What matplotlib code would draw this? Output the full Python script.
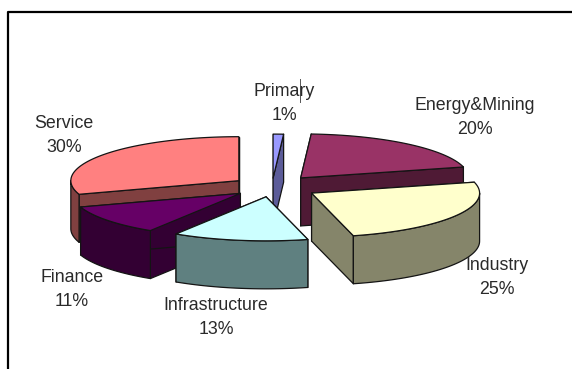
import numpy as np
import matplotlib
matplotlib.use('Agg')
import matplotlib.pyplot as plt
from matplotlib.patches import Polygon

plt.rcParams['font.family'] = ['Liberation Sans', 'DejaVu Sans']

# data, clockwise from 12 o'clock
names = ['Primary', 'Energy&Mining', 'Industry', 'Infrastructure', 'Finance', 'Service']
shares = [1, 20, 25, 13, 11, 30]

top_colors = ['#9999ff', '#993366', '#ffffcc', '#ccffff', '#660066', '#ff8080']
side_colors = ['#5c5c99', '#4f1a35', '#85856a', '#5f8080', '#330033', '#804040']

# pie geometry, in pixels of the figure
cx, cy = 272, 187
rx, ry = 168, 44
depth = 48
explode = [34, 45, 46, 38, 40, 41]
draw_order = [1, 0, 5, 4, 2, 3]
label_pos = [(284, 91), (475, 105), (497, 266), (216, 305), (72, 278), (64, 123)]

fig = plt.figure(figsize=(5.72, 3.69), dpi=100)
ax = fig.add_axes([0, 0, 1, 1])
ax.set_xlim(0, 572)
ax.set_ylim(369, 0)
ax.axis('off')

edges = np.cumsum([0] + shares) / sum(shares) * 2 * np.pi


def point(ox, oy, a):
    return ox + rx * np.sin(a), oy - ry * np.cos(a)


def face(pts, color):
    ax.add_patch(Polygon(pts, closed=True, facecolor=color, edgecolor='#141414', linewidth=0.9, joinstyle='round'))


for i in draw_order:
    a0, a1 = edges[i], edges[i + 1]
    mid = (a0 + a1) / 2
    ox = cx + explode[i] * np.sin(mid)
    oy = cy - explode[i] * np.cos(mid) * ry / rx

    # cut faces
    for a in (a0, a1):
        x, y = point(ox, oy, a)
        face([(ox, oy), (x, y), (x, y + depth), (ox, oy + depth)], side_colors[i])

    # outer wall, only the part facing us
    lo, hi = max(a0, np.pi / 2), min(a1, 3 * np.pi / 2)
    if hi > lo:
        t = np.linspace(lo, hi, 60)
        xs, ys = point(ox, oy, t)
        wall = list(zip(xs, ys)) + list(zip(xs[::-1], ys[::-1] + depth))
        face(wall, side_colors[i])

    # top
    t = np.linspace(a0, a1, 80)
    xs, ys = point(ox, oy, t)
    face([(ox, oy)] + list(zip(xs, ys)), top_colors[i])

for i in range(len(names)):
    x, y = label_pos[i]
    ax.text(x, y, names[i], ha='center', va='center', fontsize=12.8, color='#2a2a2a')
    ax.text(x, y + 24, str(shares[i]) + '%', ha='center', va='center', fontsize=12.8, color='#2a2a2a')

# stray text cursor in the Primary label
ax.plot([300, 300], [79, 102], color='#555555', lw=0.7)

# page frame
ax.plot([7.5, 7.5, 572], [369, 12, 12], color='black', lw=1.6)

fig.savefig('out.png', dpi=100)
